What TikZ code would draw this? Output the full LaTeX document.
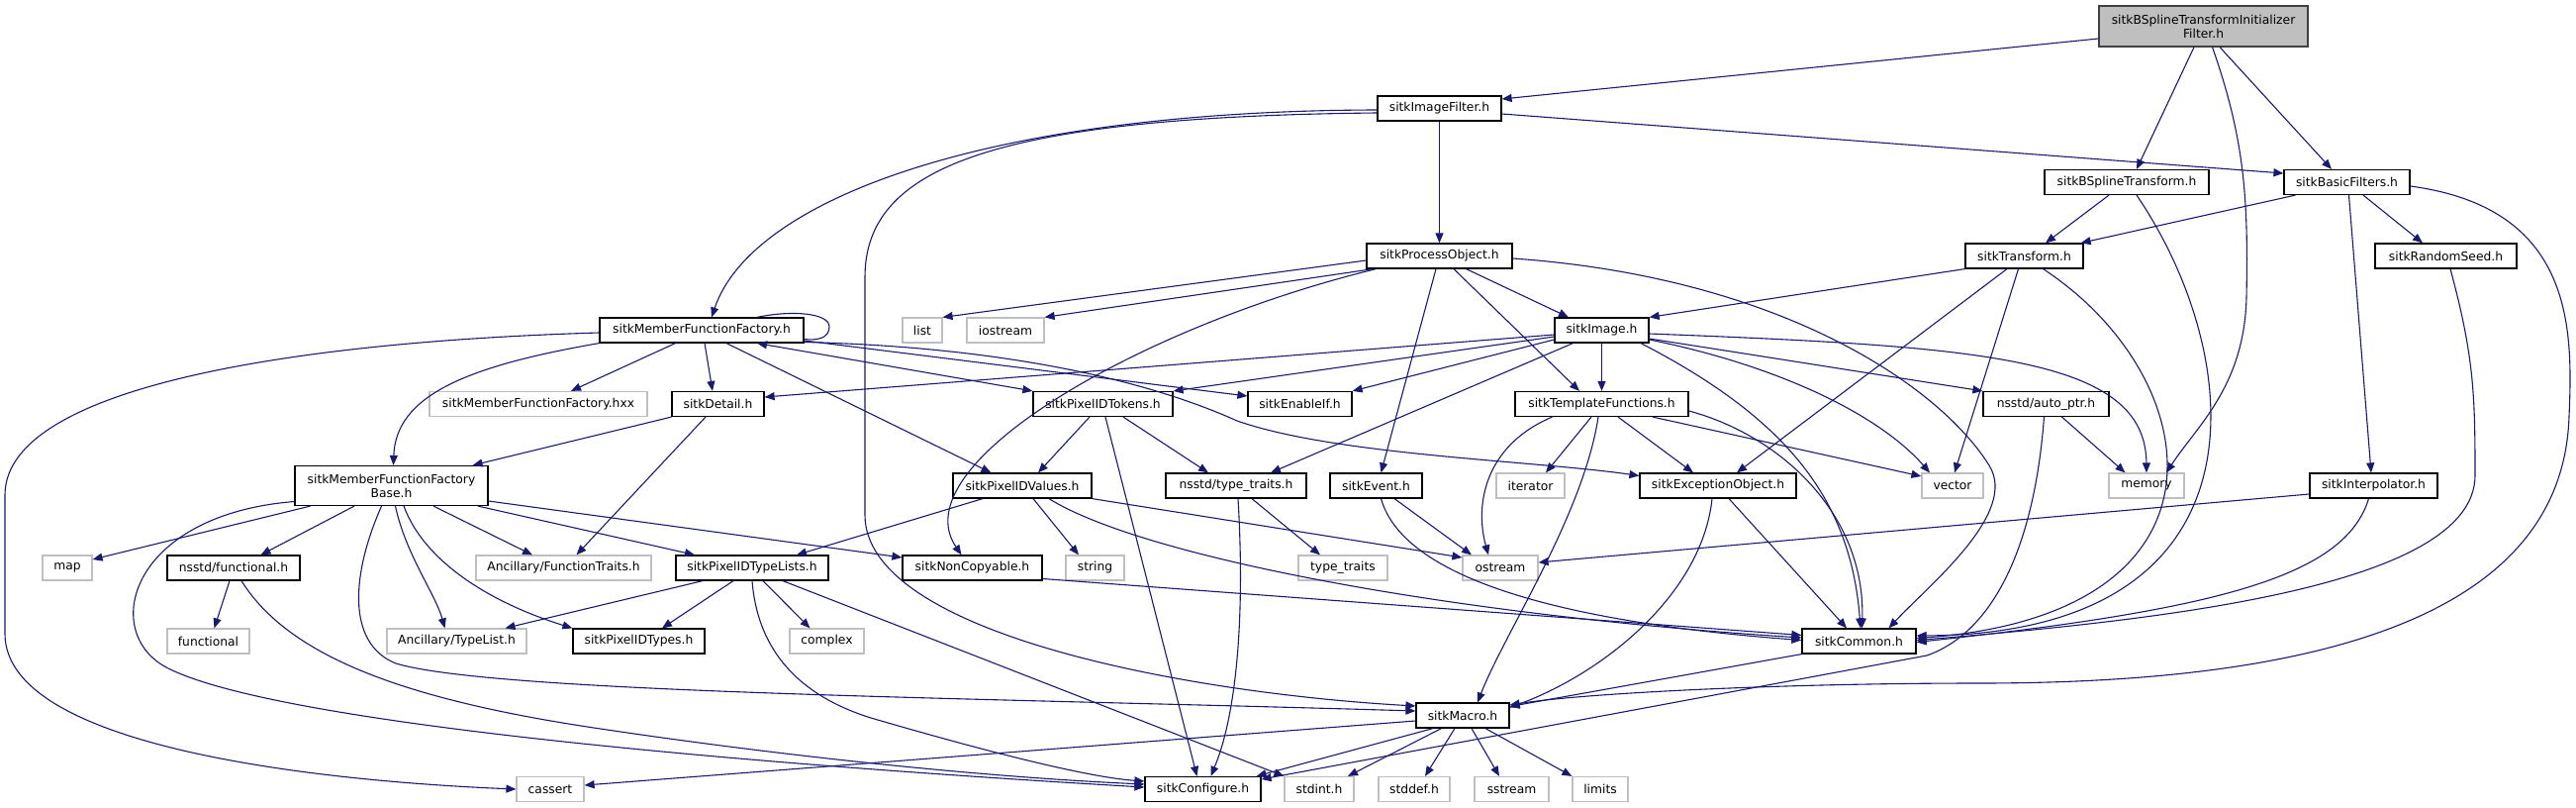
\documentclass[tikz,border=0pt]{standalone}
\usepackage{fontspec}
\setmainfont{DejaVu Sans}
\usetikzlibrary{arrows.meta,positioning}
\definecolor{midblue}{HTML}{191970}
\definecolor{sysgray}{HTML}{BFBFBF}
\definecolor{rootgray}{HTML}{BFBFBF}
\definecolor{rootline}{HTML}{404040}
\newcommand{\gfont}{\fontsize{12.3}{14}\selectfont}

\begin{document}
\begin{tikzpicture}[x=1pt, y=-1pt,
      hdrbox/.style={draw=black, fill=white, line width=1.2pt, minimum height=25pt, inner sep=0pt, align=center, font=\gfont, text=black},
      sysbox/.style={hdrbox, draw=sysgray},
      rootbox/.style={hdrbox, draw=rootline, fill=rootgray},
      arr/.style={-{Stealth[length=10pt, width=8pt, inset=0pt]}, line width=1.1pt, color=midblue},
      both/.style={arr, {Stealth[length=10pt, width=8pt, inset=0pt]}-{Stealth[length=10pt, width=8pt, inset=0pt]}}]
    \useasboundingbox (0,0) rectangle (2603,816);
    % rows 0-3
    \node[rootbox, minimum width=211, minimum height=41pt] (root) at (2226.5,26.5) {sitkBSplineTransformInitializer\\Filter.h};
    \node[hdrbox, minimum width=125] (ifilt) at (1454.5,109.5) {sitkImageFilter.h};
    \node[hdrbox, minimum width=166] (bspl) at (2149,184) {sitkBSplineTransform.h};
    \node[hdrbox, minimum width=127] (basic) at (2371.5,184) {sitkBasicFilters.h};
    \node[hdrbox, minimum width=147] (procobj) at (1454.5,258.5) {sitkProcessObject.h};
    \node[hdrbox, minimum width=119] (xform) at (2045.5,258.5) {sitkTransform.h};
    \node[hdrbox, minimum width=143] (rseed) at (2471.5,258.5) {sitkRandomSeed.h};
    % rows 4-5
    \node[hdrbox, minimum width=206] (mff) at (709,333.5) {sitkMemberFunctionFactory.h};
    \node[sysbox, minimum width=40] (lst) at (932,333.5) {list};
    \node[sysbox, minimum width=78] (iostrm) at (1016,333.5) {iostream};
    \node[hdrbox, minimum width=95] (img) at (1618.5,333.5) {sitkImage.h};
    \node[sysbox, minimum width=220] (hxx) at (544,408) {sitkMemberFunctionFactory.hxx};
    \node[hdrbox, minimum width=93] (detail) at (725.5,408) {sitkDetail.h};
    \node[hdrbox, minimum width=141] (tokens) at (1114.5,408) {sitkPixelIDTokens.h};
    \node[hdrbox, minimum width=105] (enable) at (1313.5,408) {sitkEnableIf.h};
    \node[hdrbox, minimum width=175] (tmplfn) at (1618.5,408) {sitkTemplateFunctions.h};
    \node[hdrbox, minimum width=127] (autoptr) at (2067.5,408) {nsstd/auto\_ptr.h};
    % row 6
    \node[hdrbox, minimum width=195, minimum height=40pt] (mffbase) at (395.5,490.5) {sitkMemberFunctionFactory\\Base.h};
    \node[hdrbox, minimum width=140] (pixvals) at (1033,490.5) {sitkPixelIDValues.h};
    \node[hdrbox, minimum width=142] (nstt) at (1249,490.5) {nsstd/type\_traits.h};
    \node[hdrbox, minimum width=93] (event) at (1390.5,490.5) {sitkEvent.h};
    \node[sysbox, minimum width=69] (iter) at (1546.5,490.5) {iterator};
    \node[hdrbox, minimum width=158] (excobj) at (1736,490.5) {sitkExceptionObject.h};
    \node[sysbox, minimum width=62] (vec) at (1973,490.5) {vector};
    \node[sysbox, minimum width=76] (mem) at (2169,490.5) {memory};
    \node[hdrbox, minimum width=129] (interp) at (2398.5,490.5) {sitkInterpolator.h};
    % row 7
    \node[sysbox, minimum width=50] (map) at (68,573.5) {map};
    \node[hdrbox, minimum width=134] (nsfunc) at (236,573.5) {nsstd/functional.h};
    \node[sysbox, minimum width=177] (ftraits) at (569.5,573.5) {Ancillary/FunctionTraits.h};
    \node[hdrbox, minimum width=154] (tlists) at (760,573.5) {sitkPixelIDTypeLists.h};
    \node[hdrbox, minimum width=141] (noncopy) at (982.5,573.5) {sitkNonCopyable.h};
    \node[sysbox, minimum width=59] (str) at (1106.5,573.5) {string};
    \node[sysbox, minimum width=90] (tt) at (1357,573.5) {type\_traits};
    \node[sysbox, minimum width=76] (ostr) at (1516,573.5) {ostream};
    % rows 8-10
    \node[sysbox, minimum width=83] (func) at (210.5,647.5) {functional};
    \node[sysbox, minimum width=141] (tlist) at (461.5,647.5) {Ancillary/TypeList.h};
    \node[hdrbox, minimum width=133] (pixtypes) at (645.5,647.5) {sitkPixelIDTypes.h};
    \node[sysbox, minimum width=75] (cplx) at (835.5,647.5) {complex};
    \node[hdrbox, minimum width=115] (common) at (1878.5,647.5) {sitkCommon.h};
    \node[hdrbox, minimum width=94] (macro) at (1478,722.5) {sitkMacro.h};
    \node[sysbox, minimum width=68] (cassert) at (556,797) {cassert};
    \node[hdrbox, minimum width=117] (config) at (1215.5,797) {sitkConfigure.h};
    \node[sysbox, minimum width=70] (stdint) at (1333,797) {stdint.h};
    \node[sysbox, minimum width=72] (stddef) at (1429,797) {stddef.h};
    \node[sysbox, minimum width=75] (sstrm) at (1527.5,797) {sstream};
    \node[sysbox, minimum width=56] (limits) at (1617,797) {limits};
    % root
    \draw[arr] ([yshift=-12.5pt]root.west) -- ([yshift=9.5pt]ifilt.east);
    \draw[arr] ([xshift=-9.5pt]root.south) -- ([xshift=10pt]bspl.north);
    \draw[arr] ([xshift=9pt]root.south) .. controls (2268,140) and (2272,200) .. (2270,300) .. controls (2268,390) and (2220,430) .. ([xshift=20pt]mem.north);
    \draw[arr] ([xshift=16.5pt]root.south) -- ([xshift=-15.5pt]basic.north);
    % ifilt
    \draw[arr] ([yshift=-1.5pt]ifilt.west) .. controls (1000,112) and (760,200) .. ([xshift=10pt]mff.north);
    \draw[arr] ([yshift=-4.5pt]ifilt.west) .. controls (1000,118) and (874,170) .. (874,280) -- (874,520) .. controls (874,640) and (1200,700) .. ([yshift=9.5pt]macro.west);
    \draw[arr] (ifilt) -- (procobj);
    \draw[arr] ([yshift=-5.5pt]ifilt.east) -- ([yshift=9pt]basic.west);
    % bspl, basic
    \draw[arr] ([xshift=-18pt]bspl.south) -- ([xshift=21.5pt]xform.north);
    \draw[arr] ([xshift=10pt]bspl.south) .. controls (2270,360) and (2300,640) .. ([yshift=5.5pt]common.east);
    \draw[arr] ([xshift=12pt]basic.south west) -- ([xshift=-3pt]xform.north east);
    \draw[arr] ([xshift=16.5pt]basic.south) -- ([xshift=-23.5pt]rseed.north);
    \draw[arr] ([xshift=2pt]basic.south) -- ([xshift=-2.5pt]interp.north);
    \draw[arr] ([yshift=-4pt]basic.east) .. controls (2600,210) and (2600,330) .. (2596,420) .. controls (2590,620) and (2350,690) .. (2000,690) .. controls (1800,690) and (1600,700) .. ([yshift=10.5pt]macro.east);
    % xform, rseed, interp
    \draw[arr] (xform.south west) -- (img.north east);
    \draw[arr] ([xshift=-17.5pt]xform.south) -- ([xshift=19pt]excobj.north);
    \draw[arr] ([xshift=-6pt]xform.south) -- ([xshift=2pt]vec.north);
    \draw[arr] ([xshift=19pt]xform.south) .. controls (2230,380) and (2270,620) .. ([yshift=3pt]common.east);
    \draw[arr] ([xshift=4.5pt]rseed.south) .. controls (2500,360) and (2501,400) .. (2501,480) .. controls (2501,590) and (2200,625) .. ([yshift=1pt]common.east);
    \draw[arr] ([yshift=-8.5pt]interp.west) -- ([yshift=5.5pt]ostr.east);
    \draw[arr] ([xshift=-5pt]interp.south) .. controls (2370,580) and (2250,615) .. ([yshift=-1pt]common.east);
    % procobj
    \draw[arr] ([yshift=-4.5pt]procobj.west) -- (lst.north east);
    \draw[arr] ([xshift=-67pt]procobj.south) -- (iostrm.north east);
    \draw[arr] ([xshift=-64pt]procobj.south) .. controls (1150,330) and (910,470) .. ([xshift=-11pt]noncopy.north);
    \draw[arr] ([xshift=-3.5pt]procobj.south) -- ([xshift=5pt]event.north);
    \draw[arr] ([xshift=14.5pt]procobj.south) -- ([xshift=-22.5pt]tmplfn.north);
    \draw[arr] ([xshift=27pt]procobj.south) -- ([xshift=-33.5pt]img.north);
    \draw[arr] ([yshift=-2.5pt]procobj.east) .. controls (1800,280) and (1960,390) .. (2010,470) .. controls (2040,518) and (1950,590) .. ([xshift=30pt]common.north);
    % mff
    \draw[line width=1.1pt, color=midblue] ([xshift=56pt]mff.north) .. controls (800,313) and (838,316) .. (838,330) .. controls (838,342) and (825,344) .. ([yshift=-9pt]mff.east);
    \draw[arr] ([yshift=-2.5pt]mff.west) .. controls (300,345) and (5,390) .. (5,500) -- (5,640) .. controls (5,760) and (350,790) .. (cassert.west);
    \draw[arr] (mff.south west) .. controls (470,370) and (400,400) .. ([xshift=2pt]mffbase.north);
    \draw[arr] ([xshift=-26.5pt]mff.south) -- ([xshift=33pt]hxx.north);
    \draw[arr] ([xshift=3pt]mff.south) -- ([xshift=-5.5pt]detail.north);
    \draw[arr] ([xshift=25pt]mff.south) -- ([xshift=-31.5pt]pixvals.north);
    \draw[both] ([xshift=56pt]mff.south) -- (tokens.north west);
    \draw[arr] ([yshift=-10.5pt]mff.east) -- ([yshift=8pt]enable.west);
    \draw[arr] ([yshift=-12pt]mff.east) .. controls (1000,350) and (1150,380) .. (1250,425) .. controls (1350,460) and (1550,465) .. ([yshift=10pt]excobj.west);
    % img
    \draw[arr] ([yshift=-4.5pt]img.west) -- ([yshift=7pt]detail.east);
    \draw[arr] ([yshift=-6.5pt]img.west) -- (tokens.north east);
    \draw[arr] ([yshift=-9.5pt]img.west) -- (enable.north east);
    \draw[arr] ([xshift=-29pt]img.south) -- ([xshift=35pt]nstt.north);
    \draw[arr] (img) -- (tmplfn);
    \draw[arr] ([yshift=-9.5pt]img.east) .. controls (1800,370) and (1900,420) .. ([xshift=-23pt]vec.north);
    \draw[arr] ([yshift=-8.5pt]img.east) -- (autoptr.north west);
    \draw[arr] ([yshift=-3.5pt]img.east) .. controls (2000,350) and (2168,360) .. (mem.north);
    \draw[arr] ([xshift=39.5pt]img.south) .. controls (1800,420) and (1870,500) .. ([xshift=1.5pt]common.north);
    % tmplfn
    \draw[arr] ([xshift=-50pt]tmplfn.south) .. controls (1500,450) and (1490,510) .. ([xshift=-12pt]ostr.north);
    \draw[arr] ([xshift=-10.5pt]tmplfn.south) -- ([xshift=15.5pt]iter.north);
    \draw[arr] ([xshift=16.5pt]tmplfn.south) -- ([xshift=-25pt]excobj.north);
    \draw[arr] ([xshift=51.5pt]tmplfn.south) -- ([yshift=9.5pt]vec.west);
    \draw[arr] ([xshift=-3.5pt]tmplfn.south) .. controls (1600,520) and (1520,640) .. ([xshift=15pt]macro.north);
    \draw[arr] ([yshift=-7pt]tmplfn.east) .. controls (1800,440) and (1885,520) .. ([xshift=3pt]common.north);
    % tokens, detail, autoptr
    \draw[arr] ([xshift=-13.5pt]tokens.south) -- ([xshift=16pt]pixvals.north);
    \draw[arr] ([xshift=20.5pt]tokens.south) -- ([xshift=-28pt]nstt.north);
    \draw[arr] ([xshift=2.5pt]tokens.south) -- ([xshift=-6pt]config.north);
    \draw[arr] (detail.south west) -- ([xshift=-16pt]mffbase.north east);
    \draw[arr] ([xshift=-12.5pt]detail.south) -- ([xshift=13pt]ftraits.north);
    \draw[arr] ([xshift=16pt]autoptr.south) -- ([xshift=-21.5pt]mem.north);
    \draw[arr] ([xshift=-2pt]autoptr.south) .. controls (2055,560) and (2010,640) .. (1947,662) -- ([yshift=10pt]config.east);
    % mffbase
    \draw[arr] ([xshift=-82pt]mffbase.south) -- ([yshift=8.5pt]map.east);
    \draw[arr] ([xshift=-37.5pt]mffbase.south) -- ([xshift=27.5pt]nsfunc.north);
    \draw[arr] ([xshift=4pt]mffbase.south) .. controls (410,560) and (440,600) .. ([xshift=-12pt]tlist.north);
    \draw[arr] ([xshift=12.5pt]mffbase.south) .. controls (430,570) and (500,610) .. (pixtypes.north west);
    \draw[arr] ([xshift=42.5pt]mffbase.south) -- ([xshift=-31.5pt]ftraits.north);
    \draw[arr] ([xshift=87.5pt]mffbase.south) -- ([xshift=-58pt]tlists.north);
    \draw[arr] ([yshift=-15.5pt]mffbase.east) -- ([yshift=10.5pt]noncopy.west);
    \draw[arr] ([xshift=-10pt]mffbase.south) .. controls (355,580) and (350,650) .. (400,670) .. controls (500,700) and (1000,705) .. ([yshift=4.5pt]macro.west);
    \draw[arr] ([yshift=-16pt]mffbase.west) .. controls (130,520) and (100,640) .. (170,675) .. controls (300,740) and (900,780) .. ([yshift=2pt]config.west);
    % nsfunc, tlists
    \draw[arr] ([xshift=-4pt]nsfunc.south) -- ([xshift=6pt]func.north);
    \draw[arr] ([xshift=8pt]nsfunc.south) .. controls (290,660) and (400,705) .. (600,735) .. controls (800,765) and (1000,785) .. ([yshift=5pt]config.west);
    \draw[arr] ([xshift=-50pt]tlists.south) -- ([xshift=49pt]tlist.north);
    \draw[arr] ([xshift=-19pt]tlists.south) -- ([xshift=23.5pt]pixtypes.north);
    \draw[arr] ([xshift=11pt]tlists.south) -- ([xshift=-17pt]cplx.north);
    \draw[arr] ([xshift=31pt]tlists.south) -- (stdint.north west);
    \draw[arr] (tlists.south) .. controls (765,650) and (800,700) .. (880,725) .. controls (1000,760) and (1100,785) .. ([yshift=8pt]config.west);
    % pixvals, nstt, event, noncopy
    \draw[arr] ([xshift=-40pt]pixvals.south) -- ([xshift=45pt]tlists.north);
    \draw[arr] ([xshift=11pt]pixvals.south) -- ([xshift=-16.5pt]str.north);
    \draw[arr] (pixvals.south east) -- ([yshift=10.5pt]ostr.west);
    \draw[arr] ([xshift=27pt]pixvals.south) .. controls (1150,560) and (1450,620) .. ([yshift=3.5pt]common.west);
    \draw[arr] ([xshift=16pt]nstt.south) -- ([xshift=-23pt]tt.north);
    \draw[arr] ([xshift=2pt]nstt.south) .. controls (1258,620) and (1250,720) .. ([xshift=8pt]config.north);
    \draw[arr] ([xshift=18.5pt]event.south) -- ([xshift=-29pt]ostr.north);
    \draw[arr] ([xshift=5pt]event.south) .. controls (1420,590) and (1600,630) .. ([yshift=1pt]common.west);
    \draw[arr] ([yshift=-11pt]noncopy.east) -- ([yshift=6pt]common.west);
    % excobj, common
    \draw[arr] ([xshift=-6pt]excobj.south) .. controls (1720,600) and (1620,680) .. ([yshift=8pt]macro.east);
    \draw[arr] ([xshift=11pt]excobj.south) -- ([xshift=-12.5pt]common.north);
    \draw[arr] (common.south west) -- ([yshift=9pt]macro.east);
    % macro
    \draw[arr] ([yshift=-5.5pt]macro.west) -- ([yshift=4pt]cassert.east);
    \draw[arr] ([xshift=-30pt]macro.south) -- ([xshift=-5pt]config.north east);
    \draw[arr] ([xshift=-21.5pt]macro.south) -- ([xshift=29pt]stdint.north);
    \draw[arr] ([xshift=-8pt]macro.south) -- ([xshift=11pt]stddef.north);
    \draw[arr] ([xshift=9pt]macro.south) -- ([xshift=-12.5pt]sstrm.north);
    \draw[arr] ([xshift=23pt]macro.south) -- (limits.north west);
  \end{tikzpicture}
\end{document}
